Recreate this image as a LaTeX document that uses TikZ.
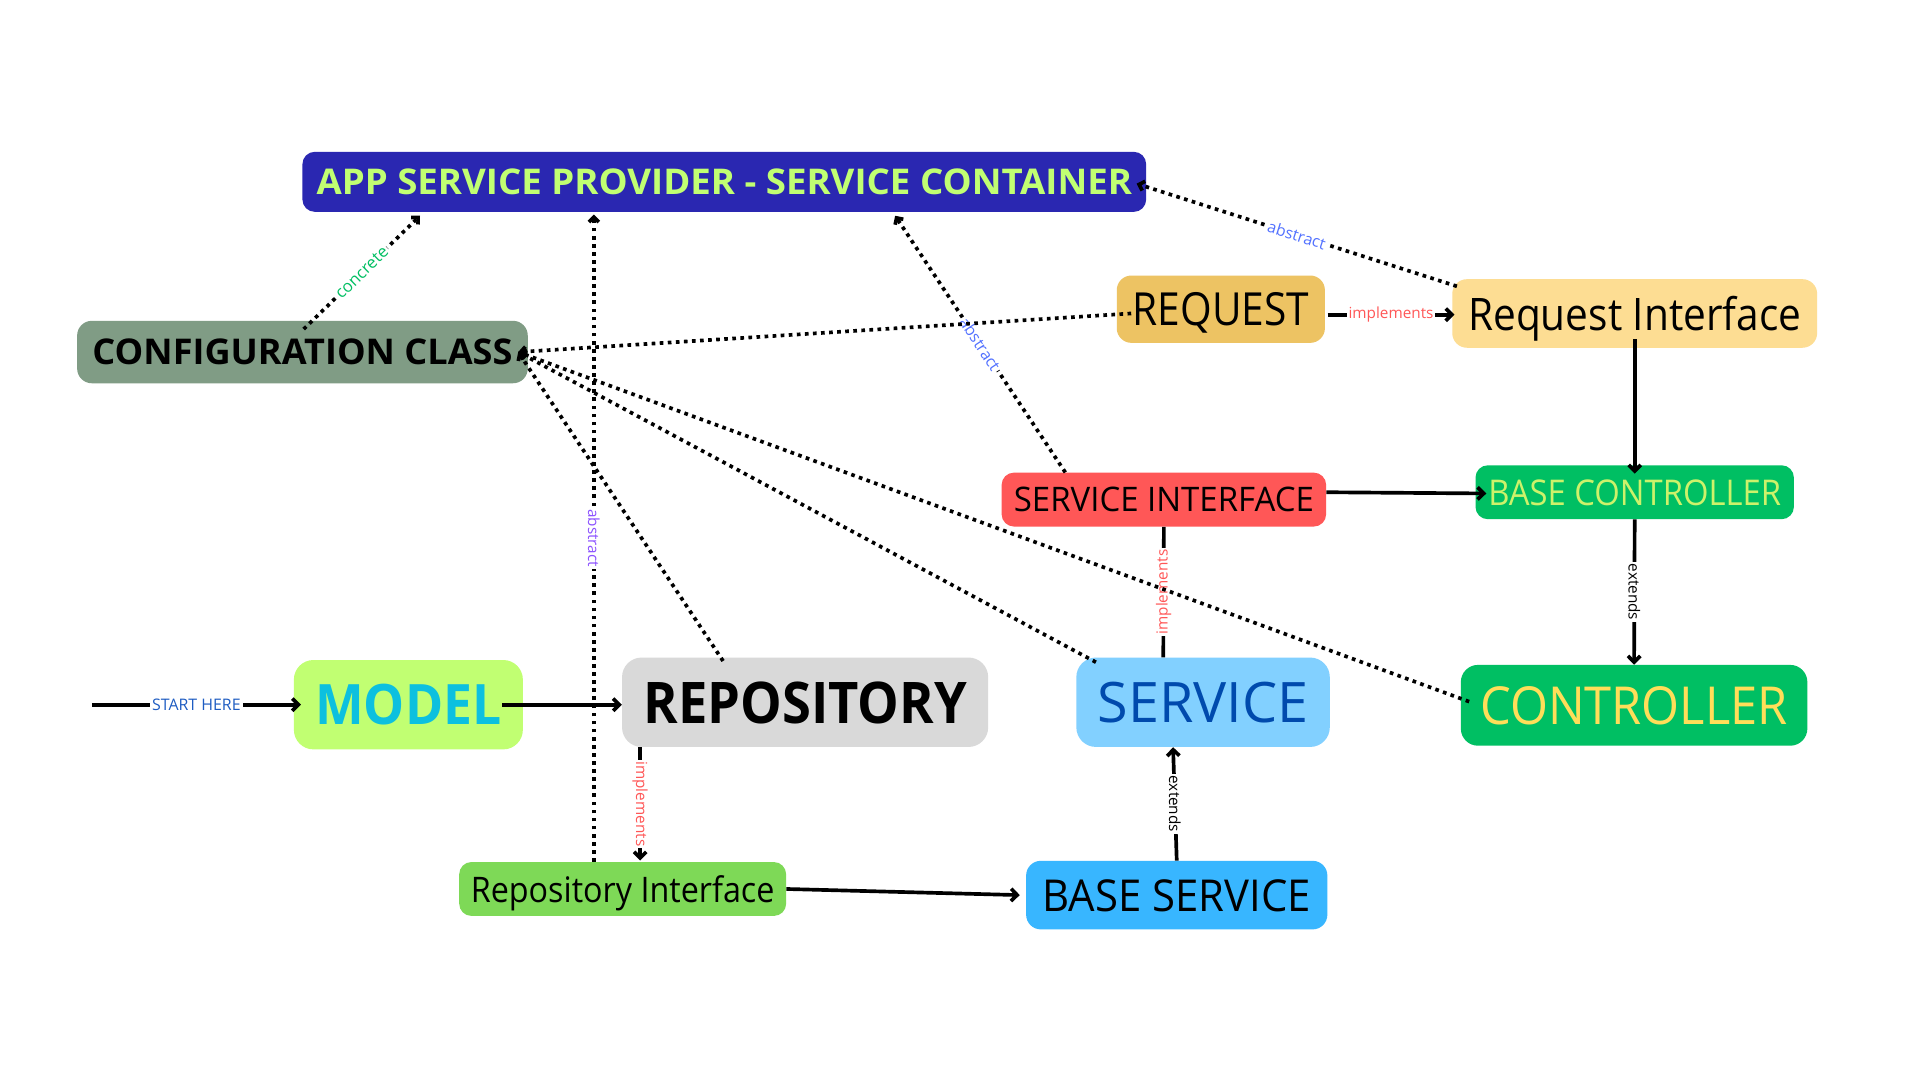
\documentclass[tikz,border=0pt]{standalone}
\usepackage{fontspec}
\setmainfont{Open Sans}
\usetikzlibrary{arrows.meta,calc}
\newcommand{\fitbox}[3]{\raisebox{0pt}[\height][0pt]{\resizebox{#1pt}{#2pt}{#3}}}
\definecolor{appblue}{HTML}{2A27B1}
\definecolor{applime}{HTML}{C1FF72}
\definecolor{cfggreen}{HTML}{809C85}
\definecolor{reqgold}{HTML}{EDC363}
\definecolor{reqilight}{HTML}{FDDD93}
\definecolor{sired}{HTML}{FF5757}
\definecolor{ctrlgreen}{HTML}{00BF63}
\definecolor{bctext}{HTML}{CDF26A}
\definecolor{modellime}{HTML}{C1FF72}
\definecolor{modelcyan}{HTML}{0CC0DF}
\definecolor{repogray}{HTML}{D9D9D9}
\definecolor{svcblue}{HTML}{82D0FF}
\definecolor{svctext}{HTML}{004AAD}
\definecolor{ctrlyellow}{HTML}{FFDE59}
\definecolor{rigreen}{HTML}{7ED957}
\definecolor{bsblue}{HTML}{38B6FF}
\definecolor{implred}{HTML}{FF5757}
\definecolor{absblue}{HTML}{5271FF}
\definecolor{abspurple}{HTML}{8C52FF}
\definecolor{concgreen}{HTML}{00BF63}
\definecolor{startblue}{HTML}{1E5CC2}
\begin{document}
\begin{tikzpicture}[x=1pt,y=-1pt,
  box/.style={rounded corners=12pt, inner sep=0pt, draw=none},
  conn/.style={line width=3pt, -{Straight Barb[length=5pt,width=10pt]}},
  plainline/.style={line width=3pt},
  dotline/.style={line width=3pt, dash pattern=on 3pt off 3.6pt, -{Straight Barb[length=4pt,width=8pt]}},
  lbl/.style={fill=white, inner sep=1.5pt, font=\fontsize{12.5}{13}\selectfont}]
\path[use as bounding box, fill=white] (0,0) rectangle (1568,882);

% nodes
\node[box, fill=appblue, minimum width=689pt, minimum height=49pt, rounded corners=10pt] (app) at (591.5,148.5)
  {\color{applime}\bfseries\fitbox{666}{21}{APP SERVICE PROVIDER - SERVICE CONTAINER}};
\node[box, fill=cfggreen, minimum width=368pt, minimum height=51pt] (cfg) at (247,287.5)
  {\bfseries\fitbox{343}{21}{CONFIGURATION CLASS}};
\node[box, fill=reqgold, minimum width=170pt, minimum height=55pt] (req) at (997,252.5)
  {\fitbox{144}{27}{REQUEST}};
\node[box, fill=reqilight, minimum width=298pt, minimum height=56pt] (reqi) at (1335,256)
  {\fitbox{272}{28}{Request Interface}};
\node[box, fill=sired, minimum width=265pt, minimum height=44pt, rounded corners=10pt] (si) at (950.5,408)
  {\fitbox{245}{20}{SERVICE INTERFACE}};
\node[box, fill=ctrlgreen, minimum width=260pt, minimum height=44pt, rounded corners=10pt] (bc) at (1335,402)
  {\color{bctext}\fitbox{239}{21}{BASE CONTROLLER}};
\node[box, fill=modellime, minimum width=187pt, minimum height=73pt, rounded corners=16pt] (model) at (333.5,575.5)
  {\color{modelcyan}\bfseries\fitbox{152}{33}{MODEL}};
\node[box, fill=repogray, minimum width=299pt, minimum height=73pt, rounded corners=16pt] (repo) at (657.5,573.5)
  {\bfseries\fitbox{264}{34}{REPOSITORY}};
\node[box, fill=svcblue, minimum width=207pt, minimum height=73pt, rounded corners=16pt] (svc) at (982.5,573.5)
  {\color{svctext}\fitbox{172}{33}{SERVICE}};
\node[box, fill=ctrlgreen, minimum width=283pt, minimum height=66pt, rounded corners=14pt] (ctrl) at (1334.5,576)
  {\color{ctrlyellow}\fitbox{251}{31}{CONTROLLER}};
\node[box, fill=rigreen, minimum width=267pt, minimum height=44pt, rounded corners=10pt] (ri) at (508.5,726)
  {\fitbox{248}{22}{Repository Interface}};
\node[box, fill=bsblue, minimum width=246pt, minimum height=56pt, rounded corners=12pt] (bs) at (961,731)
  {\fitbox{219}{26}{BASE SERVICE}};

\coordinate (start) at (75,575.5);

% solid connectors
\draw[conn] (start) -- node[lbl, text=startblue, font=\fontsize{13}{13}\selectfont] {START HERE} ([xshift=6pt]model.west);
\draw[conn] ([xshift=-17pt]model.east) -- (model.east -| repo.west);
\draw[conn] ([xshift=15pt]repo.south west) -- node[lbl, rotate=-90, text=implred] {implements} ([xshift=15pt,yshift=1pt]repo.south west |- ri.north);
\draw[conn] (ri.east) -- ([xshift=-5pt]bs.west);
\draw[conn] (bs.north) -- node[lbl, rotate=-90] {extends} ([xshift=-24.5pt]svc.south);
\draw[plainline] ([xshift=-32.5pt]svc.north) -- node[lbl, rotate=90, text=implred] {implements} (si.south);
\draw[conn] ([yshift=6pt]si.east) -- ([xshift=9pt,yshift=-1pt]bc.west);
\draw[conn] ([yshift=7pt]reqi.south) -- ([yshift=-7pt]bc.north);
\draw[conn] (bc.south) -- node[lbl, rotate=-90] {extends} (ctrl.north);
\draw[conn] ([xshift=2pt,yshift=-4.5pt]req.east) -- node[lbl, text=implred] {implements} ([xshift=2pt,yshift=-4.5pt]req.east -| reqi.west);

% dotted connectors
\draw[dotline] ([xshift=1pt,yshift=-7pt]cfg.north) -- node[lbl, sloped, text=concgreen, font=\fontsize{13.5}{14}\selectfont] {concrete} ([xshift=-248.5pt,yshift=-3pt]app.south);
\draw[dotline] ([xshift=-23.5pt]ri.north) -- node[lbl, rotate=-90, text=abspurple] {abstract} ([xshift=-106.5pt,yshift=-2pt]app.south);
\draw[dotline] ([xshift=-80.5pt]si.north) -- node[lbl, sloped, text=absblue, font=\fontsize{13}{13}\selectfont] {abstract} ([xshift=139.5pt,yshift=-3pt]app.south);
\draw[dotline] ([xshift=4pt,yshift=-6pt]reqi.north west) -- node[lbl, sloped, text=absblue, font=\fontsize{13}{13}\selectfont] {abstract} ([xshift=-8pt,yshift=-1.5pt]app.east);
\draw[dotline] ([xshift=12pt,yshift=-3.5pt]req.west) -- ([xshift=-8pt]cfg.east);
\draw[dotline] ([xshift=-67pt,yshift=-3pt]repo.north) -- ([xshift=-8pt]cfg.east);
\draw[dotline] ([xshift=-87.5pt,yshift=-4pt]svc.north) -- ([xshift=-8pt]cfg.east);
\draw[dotline] ([xshift=7pt,yshift=3pt]ctrl.west) -- ([xshift=-8pt]cfg.east);
\end{tikzpicture}
\end{document}
